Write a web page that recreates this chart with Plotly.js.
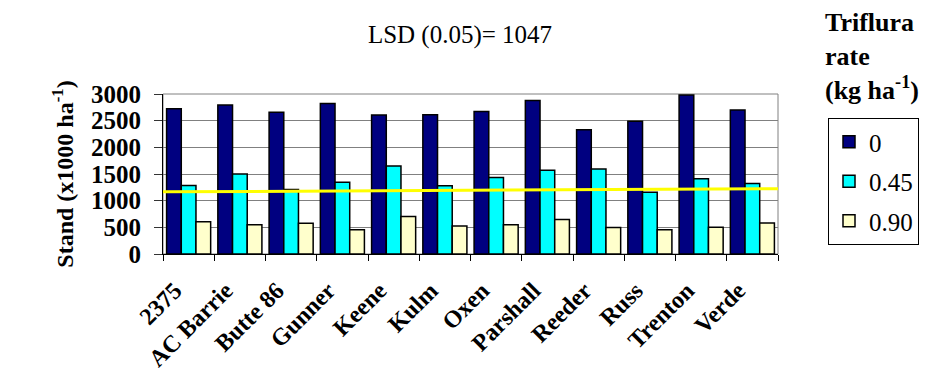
<!DOCTYPE html>
<html>
<head>
<meta charset="utf-8">
<script src="https://cdn.plot.ly/plotly-3.0.1.min.js"></script>
<style>
  html, body { margin: 0; padding: 0; background: #ffffff; }
  #chart { width: 940px; height: 380px; }
</style>
</head>
<body>
<div id="chart"></div>
<script>
// Cultivars on the x axis
const cultivars = ['2375', 'AC Barrie', 'Butte 86', 'Gunner', 'Keene', 'Kulm',
                   'Oxen', 'Parshall', 'Reeder', 'Russ', 'Trenton', 'Verde'];

// Trifluralin rates (legend entries)
const rateLabels = ['0', '0.45', '0.90'];

// Plant stand (x1000 ha-1) for each rate
const stand0   = [2725, 2795, 2660, 2820, 2605, 2610, 2670, 2880, 2330, 2490, 2980, 2700];
const stand045 = [1285, 1500, 1210, 1345, 1650, 1280, 1435, 1570, 1595, 1160, 1410, 1320];
const stand090 = [ 605,  550,  575,  455,  705,  525,  550,  645,  495,  455,  500,  580];

// Reference line drawn across the plot (start and end value)
const refLine = [1165, 1225];

const seriesValues = [stand0, stand045, stand090];
const seriesColors = ['#000080', '#00FFFF', '#FFFFCC'];

const serif = 'Liberation Serif, Times New Roman, serif';

const traces = seriesValues.map((vals, i) => ({
  type: 'bar',
  name: rateLabels[i],
  x: cultivars,
  y: vals,
  legendgroup: 'g' + i,
  marker: { color: seriesColors[i], line: { color: '#000000', width: 1.5 } },
  hoverinfo: 'x+y+name'
}));

const layout = {
  width: 940,
  height: 380,
  margin: { l: 163, r: 162, t: 94, b: 126 },
  font: { family: serif, color: '#000000' },
  paper_bgcolor: '#ffffff',
  plot_bgcolor: '#ffffff',
  barmode: 'group',
  bargap: 0.14,
  bargroupgap: 0,
  title: {
    text: 'LSD (0.05)= 1047',
    font: { family: serif, size: 25, color: '#000000' },
    x: 460 / 940,
    xref: 'container',
    xanchor: 'center',
    y: 1 - 34 / 380,
    yref: 'container',
    yanchor: 'middle'
  },
  xaxis: {
    type: 'category',
    tickangle: -45,
    tickfont: { family: serif, size: 24, color: '#000000', weight: 'bold' },
    ticks: 'outside',
    tickson: 'boundaries',
    ticklen: 6,
    tickcolor: '#000000',
    ticklabelstandoff: 12,
    ticklabelshift: -14,
    showline: true,
    linecolor: '#000000',
    linewidth: 1,
    showgrid: false,
    zeroline: false
  },
  yaxis: {
    range: [0, 3000],
    dtick: 500,
    tick0: 0,
    ticks: 'outside',
    ticklen: 8,
    tickcolor: '#333333',
    ticklabelstandoff: 8,
    tickfont: { family: serif, size: 25, color: '#000000', weight: 'bold' },
    showline: true,
    linecolor: '#000000',
    linewidth: 1,
    showgrid: true,
    gridcolor: '#808080',
    gridwidth: 1,
    zeroline: false,
    title: {
      text: 'Stand (x1000 ha<sup>-1</sup>)',
      font: { family: serif, size: 24, color: '#000000', weight: 'bold' },
      standoff: 10
    }
  },
  showlegend: true,
  legend: {
    x: (828 - 163) / 615,
    y: (254 - 118) / 160,
    xanchor: 'left',
    yanchor: 'top',
    traceorder: 'grouped',
    tracegroupgap: 4,
    bgcolor: '#ffffff',
    bordercolor: '#000000',
    borderwidth: 1,
    font: { family: serif, size: 25, color: '#000000' }
  },
  annotations: [{
    text: '<b>Triflura<br>rate<br>(kg ha<sup>-1</sup>)</b>',
    xref: 'paper',
    yref: 'paper',
    x: (823 - 163) / 615,
    y: (254 - 6) / 160,
    xanchor: 'left',
    yanchor: 'top',
    align: 'left',
    showarrow: false,
    font: { family: serif, size: 26, color: '#000000' }
  }],
  shapes: [
    {
      // plot area frame (top and right edges)
      type: 'rect', xref: 'paper', yref: 'paper',
      x0: 0, x1: 1, y0: 0, y1: 1,
      line: { color: '#808080', width: 1 },
      layer: 'below'
    },
    {
      type: 'line', xref: 'paper', yref: 'y',
      x0: 0, x1: 1, y0: refLine[0], y1: refLine[1],
      line: { color: '#FFFF00', width: 3 },
      layer: 'above'
    }
  ]
};

Plotly.newPlot('chart', traces, layout, { displayModeBar: false, staticPlot: true });
</script>
</body>
</html>
